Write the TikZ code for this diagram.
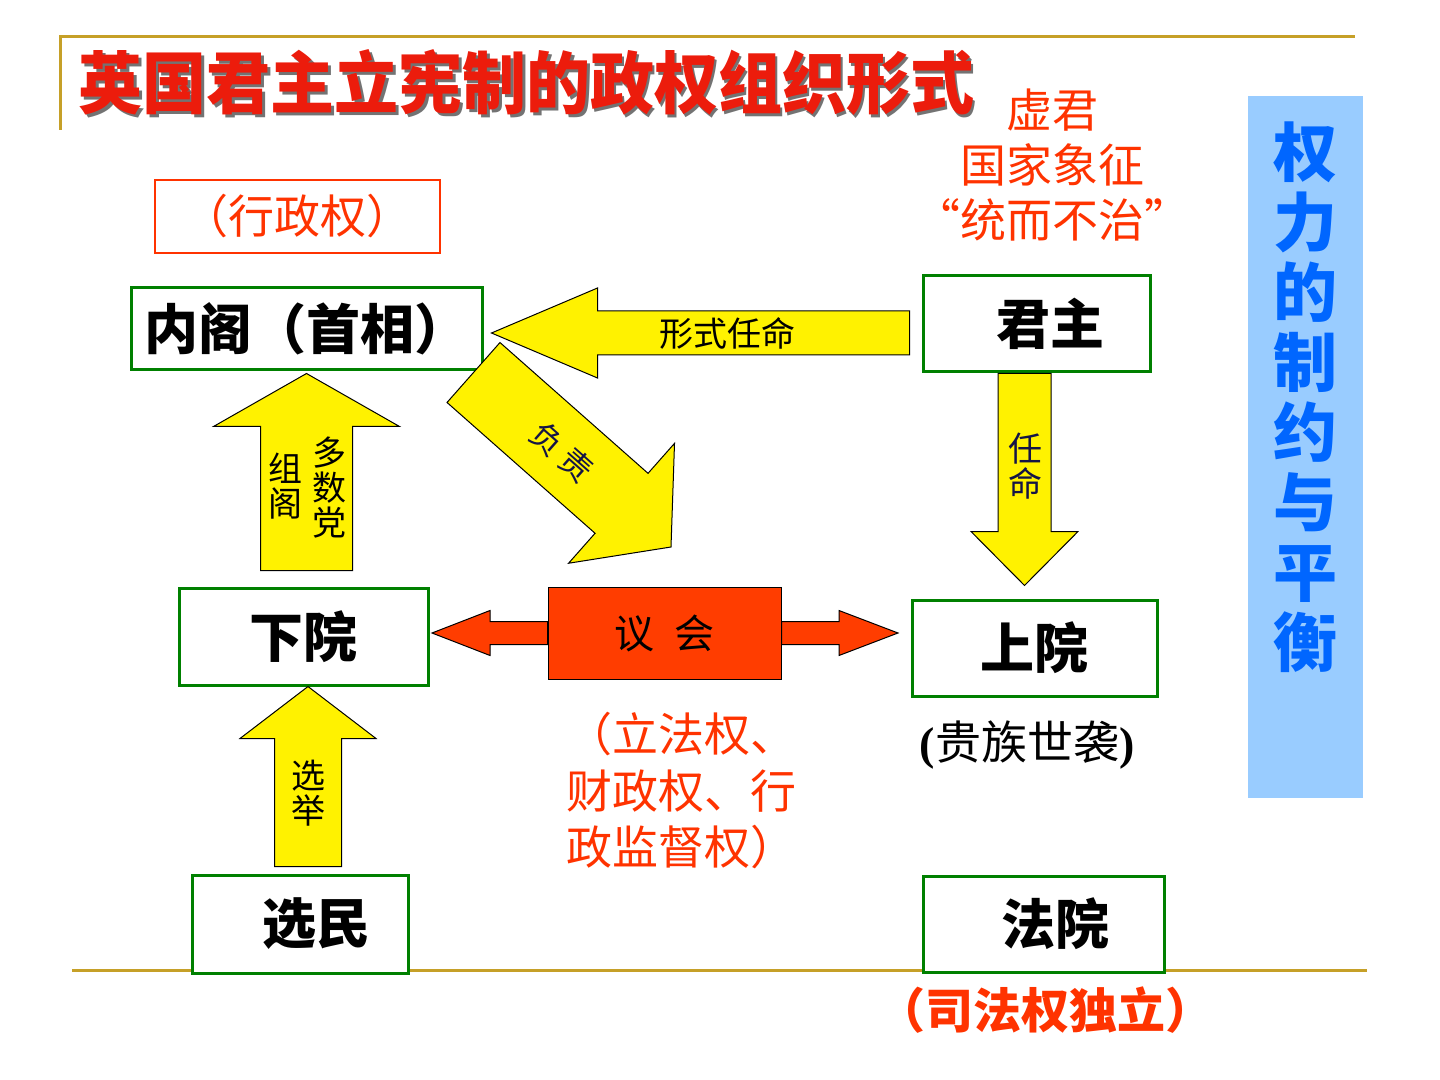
\documentclass[tikz,border=0pt]{standalone}
\usepackage{fontspec}
\setmainfont{Noto Sans CJK SC}
\newfontfamily\parenfont{Liberation Serif}
\usetikzlibrary{positioning,calc}
\definecolor{boxgreen}{RGB}{0,128,0}
\definecolor{notered}{RGB}{255,51,0}
\definecolor{titlered}{RGB}{236,28,12}
\definecolor{framegold}{RGB}{198,160,40}
\definecolor{panelblue}{RGB}{153,204,255}
\definecolor{panelink}{RGB}{0,102,255}
\definecolor{parlred}{RGB}{255,61,0}
\definecolor{labelnavy}{RGB}{20,20,70}
\tikzset{
     organ/.style={draw=boxgreen,line width=1.5pt,fill=white,inner sep=0pt,
                   font=\fontsize{27}{30}\selectfont\bfseries},
     note/.style={text=notered,align=center,inner sep=0pt,
                  font=\fontsize{23}{27.5}\selectfont},
     yarrow/.style={fill=yellow,draw=black,line width=0.5pt},
     rarrow/.style={fill=parlred,draw=black,line width=0.5pt},
     alabel/.style={align=center,inner sep=0pt,font=\fontsize{17}{17.5}\selectfont}
     }
% block arrow: [style]{tail}{tip}{half shaft}{half head}{head length}
\newcommand\blockarrow[6][yarrow]{%
  \coordinate (ba-h) at ($(#3)!#6!(#2)$);
  \path[#1] ($(#2)!#4!90:(#3)$) -- ($(ba-h)!#4!-90:(#2)$) -- ($(ba-h)!#5!-90:(#2)$)
    -- (#3) -- ($(ba-h)!#5!90:(#2)$) -- ($(ba-h)!#4!90:(#2)$)
    -- ($(#2)!#4!-90:(#3)$) -- cycle;
}

\begin{document}
\begin{tikzpicture}[x=0.5pt,y=-0.5pt]
                    \useasboundingbox (0,0) rectangle (1440,1080);
                    % Frame lines
                    \draw[framegold,line width=1.5pt] (60,130) -- (60,37) -- (1355,37);
                    \draw[framegold,line width=1.5pt] (72,970) -- (1367,970);
                    % Title
                    \node (title-shadow) [text=black!55,font=\fontsize{32}{32}\selectfont\bfseries,yscale=1.06] at (529,86) {英国君主立宪制的政权组织形式};
                    \node (title) [text=titlered,font=\fontsize{32}{32}\selectfont\bfseries,yscale=1.06] at (526,83) {英国君主立宪制的政权组织形式};
                    % Place nodes
                    \node (neige) [organ,minimum width=175.5pt,minimum height=41pt] at (306.5,329) {内阁（首相）};
                    \node (xingzheng) [draw=notered,line width=0.6pt,note,minimum width=142.5pt,minimum height=36.5pt] at (297.5,216.5) {（行政权）};
                    \node (junzhu) [organ,minimum width=113.5pt,minimum height=48pt] at (1036.5,324) {\hspace{14pt}君主};
                    \node (xujun) [note] at (1052,165) {虚君\\国家象征\\“统而不治”};
                    \node (xiayuan) [organ,minimum width=124.5pt,minimum height=48.5pt] at (303.5,636.5) {下院};
                    \node (shangyuan) [organ,minimum width=122.5pt,minimum height=48pt] at (1034.5,648) {上院};
                    \node (guizu) [font=\fontsize{23}{23}\selectfont,inner sep=0pt] at (1027,745) {{\parenfont\bfseries (}贵族世袭{\parenfont\bfseries )}};
                    \node (yihui) [rarrow,minimum width=116.5pt,minimum height=46pt,inner sep=0pt,font=\fontsize{20}{20}\selectfont] at (664.5,633) {议\hspace{0.5em}会};
                    \node (lifa) [note,align=left,anchor=west,font=\fontsize{23}{28.25}\selectfont] at (566,791) {（立法权、\\财政权、行\\政监督权）};
                    \node (xuanmin) [organ,minimum width=108pt,minimum height=49pt] at (300,924) {\hspace{16pt}选民};
                    \node (fayuan) [organ,minimum width=120.5pt,minimum height=48pt] at (1043.5,924) {\hspace{12pt}法院};
                    \node (sifa) [note,font=\fontsize{24}{24}\selectfont\bfseries] at (1045,1010) {（司法权独立）};
                    \node (balance) [fill=panelblue,minimum width=57.5pt,minimum height=351pt] at (1305.5,447) {};
                    \node (balance-text) [text=panelink,align=center,inner sep=0pt,font=\fontsize{32}{35}\selectfont\bfseries] at (1305.5,397) {权\\力\\的\\制\\约\\与\\平\\衡};
                    % Draw edges
                    \coordinate (xs-tail) at ($(junzhu.west)+(-12,9)$);
                    \coordinate (xs-tip) at ($(neige.east)+(8,4)$);
                    \blockarrow{xs-tail}{xs-tip}{11pt}{22.5pt}{53pt}
                    \node (xs-label) [alabel] at (727,333) {形式任命};
                    \coordinate (fz-tail) at (473.5,372.5);
                    \coordinate (fz-tip) at (671,547);
                    \blockarrow{fz-tail}{fz-tip}{20pt}{40pt}{33pt}
                    \node (fz-label) [alabel,text=labelnavy,font=\fontsize{16}{16}\selectfont,rotate=-41.5] at (562,452) {负\hspace{3pt}责};
                    \coordinate (rm-tail) at ($(junzhu.south)+(-12,0)$);
                    \coordinate (rm-tip) at ($(shangyuan.north)+(-10,-13)$);
                    \blockarrow{rm-tail}{rm-tip}{13.25pt}{26.75pt}{27pt}
                    \node (rm-label) [alabel,text=labelnavy] at (1025,466) {任\\命};
                    \coordinate (zg-tail) at ($(xiayuan.north)+(3,-16)$);
                    \coordinate (zg-tip) at ($(neige.south)+(0,2)$);
                    \blockarrow{zg-tail}{zg-tip}{23pt}{46.5pt}{26.5pt}
                    \node (zg-right) [alabel] at (329,488) {多\\数\\党};
                    \node (zg-left) [alabel] at (285,486) {组\\阁};
                    \coordinate (xj-tail) at ($(xuanmin.north)+(8,-7)$);
                    \coordinate (xj-tip) at ($(xiayuan.south)+(4.5,0)$);
                    \blockarrow{xj-tail}{xj-tip}{16.75pt}{34pt}{26pt}
                    \node (xj-label) [alabel] at (308,793) {选\\举};
                    \coordinate (yh-left) at (432,633);
                    \coordinate (yh-right) at (898,633);
                    \blockarrow[rarrow]{yihui.west}{yh-left}{5.75pt}{11.25pt}{29pt}
                    \blockarrow[rarrow]{yihui.east}{yh-right}{5.75pt}{11.25pt}{29.5pt}
                \end{tikzpicture}
\end{document}
